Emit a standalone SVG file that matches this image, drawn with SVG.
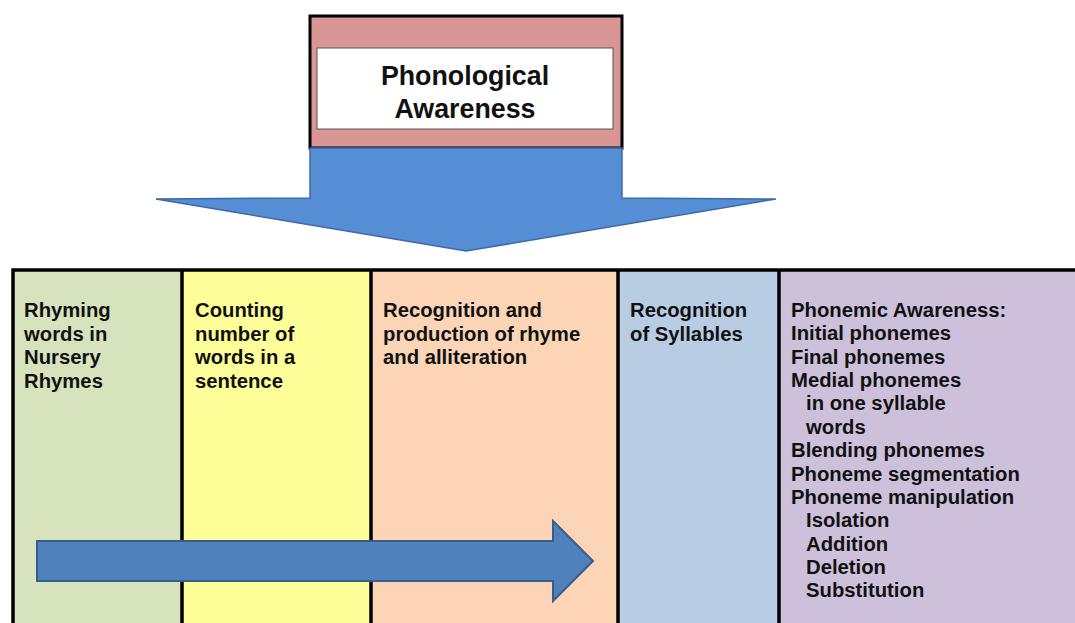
<svg xmlns="http://www.w3.org/2000/svg" width="1075" height="623" viewBox="0 0 1075 623">
<style>
.t{font-family:"Liberation Sans",Arial,sans-serif;font-weight:bold;font-size:20.3px;fill:#111}
.title{font-family:"Liberation Sans",Arial,sans-serif;font-weight:bold;font-size:26.8px;fill:#111;text-anchor:middle}
.grid{stroke:#000;stroke-width:3.5;fill:none}
.arrow{fill:#4f81bd;stroke:#385d8a;stroke-width:2}
.down{fill:#558ed5;stroke:#3d6aa6;stroke-width:1.5}
</style>
<rect width="1075" height="623" fill="#fff"/>
<g id="columns">
<g id="col-rhyming">
<rect x="13" y="270" width="169" height="360" fill="#d7e3bc"/>
<text class="t" x="24" y="317">Rhyming</text>
<text class="t" x="24" y="341">words in</text>
<text class="t" x="24" y="364">Nursery</text>
<text class="t" x="24" y="388">Rhymes</text>
</g>
<g id="col-counting">
<rect x="182" y="270" width="189" height="360" fill="#ffff99"/>
<text class="t" x="195" y="317">Counting</text>
<text class="t" x="195" y="341">number of</text>
<text class="t" x="195" y="364">words in a</text>
<text class="t" x="195" y="388">sentence</text>
</g>
<g id="col-rhyme">
<rect x="371" y="270" width="247" height="360" fill="#fbd5b5"/>
<text class="t" x="383" y="317">Recognition and</text>
<text class="t" x="383" y="341">production of rhyme</text>
<text class="t" x="383" y="364">and alliteration</text>
</g>
<g id="col-syllables">
<rect x="618" y="270" width="161" height="360" fill="#b8cce4"/>
<text class="t" x="630" y="317">Recognition</text>
<text class="t" x="630" y="341">of Syllables</text>
</g>
<g id="col-phonemic">
<rect x="779" y="270" width="300" height="360" fill="#ccc0da"/>
<text class="t" x="791" y="317">Phonemic Awareness:</text>
<text class="t" x="791" y="340">Initial phonemes</text>
<text class="t" x="791" y="364">Final phonemes</text>
<text class="t" x="791" y="387">Medial phonemes</text>
<text class="t" x="806" y="410">in one syllable</text>
<text class="t" x="806" y="434">words</text>
<text class="t" x="791" y="457">Blending phonemes</text>
<text class="t" x="791" y="481">Phoneme segmentation</text>
<text class="t" x="791" y="504">Phoneme manipulation</text>
<text class="t" x="806" y="527">Isolation</text>
<text class="t" x="806" y="551">Addition</text>
<text class="t" x="806" y="574">Deletion</text>
<text class="t" x="806" y="597">Substitution</text>
</g>
<path class="grid" d="M13 630 V270 H1080 M182 270 V630 M371 270 V630 M618 270 V630 M779 270 V630"/>
</g>
<g id="phonological">
<rect x="310" y="16" width="312" height="132" fill="#d99694" stroke="#000" stroke-width="3"/>
<rect x="317" y="48" width="296" height="81" fill="#fff" stroke="#555" stroke-width="1"/>
<text class="title" x="465" y="85">Phonological</text>
<text class="title" x="465" y="118">Awareness</text>
</g>
<g id="connectors">
<polygon class="down" points="310,148 622,148 622,198 776,199 466,251 156,199 310,198"/>
<polygon class="arrow" points="37,541 553,541 553,521 593,561 553,601 553,581 37,581"/>
</g>
</svg>
